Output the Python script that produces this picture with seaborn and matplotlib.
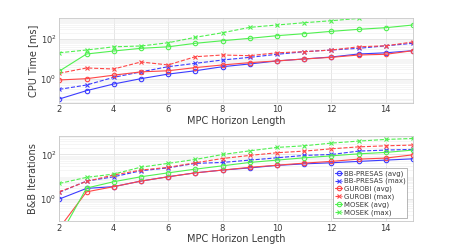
import matplotlib
matplotlib.use("Agg")
import matplotlib.pyplot as plt
import numpy as np
import seaborn as sns
from matplotlib.ticker import FixedLocator, LogLocator, NullFormatter

horizon = [2, 3, 4, 5, 6, 7, 8, 9, 10, 11, 12, 13, 14, 15]

# CPU time [ms]
cpu_bb_avg = [0.095, 0.25, 0.54, 1.0, 1.7, 2.5, 4.0, 5.5, 7.8, 9.8, 12.3, 17.4, 20, 25.6]
cpu_bb_max = [0.29, 0.48, 1.17, 2.2, 4.0, 5.9, 8.7, 11.8, 16.8, 22.7, 27.6, 33.6, 45, 60]
cpu_gu_avg = [0.86, 1.0, 1.5, 2.2, 2.5, 3.6, 4.9, 6.4, 7.8, 9.8, 11.8, 15.5, 16.8, 25.6]
cpu_gu_max = [1.87, 3.45, 3.07, 6.9, 4.9, 12.7, 15.5, 14.3, 20, 22.7, 27.6, 40, 45, 70]
cpu_mo_avg = [2.4, 17.4, 24.6, 33.6, 40, 60, 81, 107, 145, 183, 240, 302, 366, 500]
cpu_mo_max = [20, 27.6, 40, 44, 64, 120, 204, 380, 500, 650, 820, 1070, np.nan, np.nan]

# B&B iterations
it_bb_avg = [1.0, 3.0, 3.6, 6.4, 10, 15, 20, 25, 32.4, 38, 42.5, 49, 56, 64]
it_bb_max = [2.0, 6.4, 10, 18.6, 25, 40, 44, 56, 71, 91, 100, 142, 158, 170]
it_gu_avg = [0.05, 2.1, 3.6, 6.4, 10, 15, 20, 26.5, 33, 41, 49, 62, 69, 97]
it_gu_max = [2.1, 6.2, 12, 20, 26.5, 42.5, 66, 91, 120, 142, 180, 220, 246, 265]
it_mo_avg = [0.02, 3.1, 6.0, 10, 15, 22, 31, 44, 56, 71, 87, 107, 124, 158]
it_mo_max = [5.0, 9.4, 13.2, 27, 40, 60, 100, 146, 208, 246, 325, 400, 475, 525]

labels = ["BB-PRESAS (avg)", "BB-PRESAS (max)", "GUROBI (avg)",
          "GUROBI (max)", "MOSEK (avg)", "MOSEK (max)"]

BLUE = "#3c3cff"
RED = "#ff4646"
GREEN = "#50f050"
TEXT = "#3a3a3a"

sns.set_theme(style="whitegrid")
plt.rcParams["font.family"] = ["DejaVu Sans"]

fig = plt.figure(figsize=(4.57, 2.49), dpi=100)
ax_top = fig.add_axes([0.1298, 0.5876, 0.7739, 0.340])
ax_bot = fig.add_axes([0.1298, 0.1124, 0.7739, 0.341])


def draw(ax, series):
    for vals, color, style, marker, lab in series:
        sns.lineplot(x=horizon, y=vals, ax=ax, color=color, linestyle=style,
                     marker=marker, markersize=3.2 if marker == "o" else 2.4,
                     markerfacecolor="none" if marker == "o" else color,
                     markeredgecolor=color, markeredgewidth=0.8,
                     linewidth=0.8, label=lab, legend=False, sort=False)


def style_axes(ax, ylim, ylabel):
    ax.set_yscale("log")
    ax.set_xlim(2, 15)
    ax.set_ylim(*ylim)
    ax.set_xticks([2, 4, 6, 8, 10, 12, 14])
    ax.yaxis.set_major_locator(FixedLocator([1, 100]))
    ax.set_yticklabels(["$10^{0}$", "$10^{2}$"])
    ax.yaxis.set_minor_locator(LogLocator(base=10, subs=np.arange(1, 10), numticks=20))
    ax.yaxis.set_minor_formatter(NullFormatter())
    ax.grid(True, which="major", color="#dcdcdc", linewidth=0.5)
    ax.grid(True, which="minor", axis="y", color="#eeeeee", linewidth=0.4)
    ax.tick_params(axis="both", which="major", labelsize=6, colors=TEXT, pad=2,
                   length=0)
    ax.set_xlabel("MPC Horizon Length", fontsize=7, color=TEXT, labelpad=1)
    ax.set_ylabel(ylabel, fontsize=7, color=TEXT, labelpad=2)
    for sp in ax.spines.values():
        sp.set_color("#c8c8c8")
        sp.set_linewidth(0.6)


series_top = [
    (cpu_bb_avg, BLUE, "-", "o", labels[0]),
    (cpu_bb_max, BLUE, "--", "x", labels[1]),
    (cpu_gu_avg, RED, "-", "o", labels[2]),
    (cpu_gu_max, RED, "--", "x", labels[3]),
    (cpu_mo_avg, GREEN, "-", "o", labels[4]),
    (cpu_mo_max, GREEN, "--", "x", labels[5]),
]
series_bot = [
    (it_bb_avg, BLUE, "-", "o", labels[0]),
    (it_bb_max, BLUE, "--", "x", labels[1]),
    (it_gu_avg, RED, "-", "o", labels[2]),
    (it_gu_max, RED, "--", "x", labels[3]),
    (it_mo_avg, GREEN, "-", "o", labels[4]),
    (it_mo_max, GREEN, "--", "x", labels[5]),
]

draw(ax_top, series_top)
style_axes(ax_top, (0.062, 1120), "CPU Time [ms]")

draw(ax_bot, series_bot)
style_axes(ax_bot, (0.103, 670), "B&B Iterations")

leg = ax_bot.legend(loc="lower right", bbox_to_anchor=(0.985, 0.03), fontsize=5,
                    frameon=True, fancybox=False, framealpha=1,
                    handlelength=1.0, handletextpad=0.2, labelspacing=0.2,
                    borderpad=0.25, borderaxespad=0.1)
leg.get_frame().set_edgecolor("#9a9a9a")
leg.get_frame().set_linewidth(0.5)
for t in leg.get_texts():
    t.set_color(TEXT)

fig.savefig("out.png", dpi=100)
